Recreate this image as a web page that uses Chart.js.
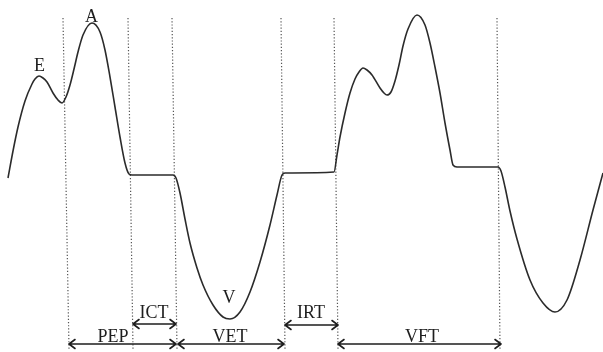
<!DOCTYPE html>
<html>
<head>
<meta charset="utf-8">
<script src="https://cdn.jsdelivr.net/npm/chart.js@4/dist/chart.umd.min.js"></script>
<style>
  html, body { margin: 0; padding: 0; background: #fff; }
  #wrap { width: 603px; height: 352px; }
</style>
</head>
<body>
<div id="wrap"><canvas id="myChart" width="603" height="352"></canvas></div>
<script>
// waveform (time, amplitude; 0 = flat baseline)
let timeAxis = [8, 13, 18, 25, 32, 35, 39, 43, 47, 53, 58, 62, 66, 70, 74, 78, 83, 92, 100, 105, 110, 115, 120, 125, 129, 132, 173,
    176, 180, 185, 190, 197, 203, 213, 223, 230, 240, 250, 260, 270, 277, 282, 285, 334,
    337, 340, 345, 350, 355, 359, 363, 367, 372, 380, 384, 387, 391, 395, 399, 403, 408, 417, 425, 430, 435, 440, 445, 450, 453, 457, 498,
    501, 505, 510, 517, 530, 543, 555, 567, 580, 593, 603];
let amplitude = [-5, 22, 46, 72, 89, 94, 97, 95, 91, 80, 73, 70, 76, 88, 104, 121, 138, 150, 141, 123, 96, 66, 36, 10, -1, -2, -2,
    -5, -20, -46, -70, -95, -112, -132, -144, -146, -139, -119, -89, -52, -22, -2, 0, 1,
    18, 36, 60, 80, 94, 101, 105, 103, 98, 85, 80, 78, 81, 92, 108, 127, 144, 158, 148, 130, 106, 80, 50, 23, 8, 6, 6,
    2, -14, -38, -66, -107, -130, -139, -127, -87, -37, 0];

// dotted event markers (slightly slanted in the picture)
let markerTop = [63, 128, 172, 281, 334, 497];
let markerBottom = [69, 133, 177, 285, 338, 500];
let markerAmpTop = 155;
let markerAmpBottom = -176;

// interval arrows
let intervalNames = ['ICT', 'PEP', 'VET', 'IRT', 'VFT'];
let intervalStart = [133, 69, 178, 285, 338];
let intervalEnd = [176, 176, 284, 338, 501];
let intervalLevel = [-151, -171, -171, -152, -171];
let intervalLabelX = [154, 113, 230, 311, 422];
let intervalLabelAmp = [-145, -169, -169, -145, -169];

// peak letters
let peakNames = ['E', 'A', 'V'];
let peakX = [39.5, 91.5, 229];
let peakAmp = [102, 151, -130];

let ink = '#1e1e1e';

let datasets = [{
    data: timeAxis.map((t, i) => ({x: t, y: amplitude[i]})),
    borderColor: '#2b2b2b',
    borderWidth: 1.6,
    pointRadius: 0,
    cubicInterpolationMode: 'monotone',
    fill: false
}];
markerTop.forEach((t, i) => {
    datasets.push({
        data: [{x: t, y: markerAmpTop}, {x: markerBottom[i], y: markerAmpBottom}],
        borderColor: '#555',
        borderWidth: 1.2,
        borderDash: [1.2, 2],
        pointRadius: 0,
        tension: 0
    });
});

// arrows and text labels
let annotate = {
    id: 'annotate',
    afterDatasetsDraw(chart) {
        let ctx = chart.ctx;
        let xs = chart.scales.x, ys = chart.scales.y;
        ctx.save();
        ctx.strokeStyle = ink;
        ctx.fillStyle = ink;
        ctx.lineWidth = 1.6;
        ctx.lineCap = 'round';
        ctx.lineJoin = 'round';
        intervalNames.forEach((name, i) => {
            let x1 = xs.getPixelForValue(intervalStart[i]);
            let x2 = xs.getPixelForValue(intervalEnd[i]);
            let y = ys.getPixelForValue(intervalLevel[i]);
            ctx.beginPath();
            ctx.moveTo(x1, y);
            ctx.lineTo(x2, y);
            ctx.moveTo(x1 + 6, y - 4.5);
            ctx.lineTo(x1, y);
            ctx.lineTo(x1 + 6, y + 4.5);
            ctx.moveTo(x2 - 6, y - 4.5);
            ctx.lineTo(x2, y);
            ctx.lineTo(x2 - 6, y + 4.5);
            ctx.stroke();
        });
        ctx.font = '18px "Liberation Serif", "Times New Roman", serif';
        ctx.textAlign = 'center';
        ctx.textBaseline = 'alphabetic';
        intervalNames.forEach((name, i) => {
            ctx.fillText(name, xs.getPixelForValue(intervalLabelX[i]), ys.getPixelForValue(intervalLabelAmp[i]));
        });
        peakNames.forEach((name, i) => {
            ctx.fillText(name, xs.getPixelForValue(peakX[i]), ys.getPixelForValue(peakAmp[i]));
        });
        ctx.restore();
    }
};

var ctx = document.getElementById('myChart').getContext('2d');
var chart = new Chart(ctx, {
    type: 'line',
    data: { datasets: datasets },
    options: {
        responsive: false,
        animation: false,
        layout: { padding: 0 },
        plugins: { legend: { display: false }, tooltip: { enabled: false } },
        scales: {
            x: { type: 'linear', min: 0, max: 603, display: false },
            y: { type: 'linear', min: -179, max: 173, display: false }
        }
    },
    plugins: [annotate]
});
</script>
</body>
</html>
